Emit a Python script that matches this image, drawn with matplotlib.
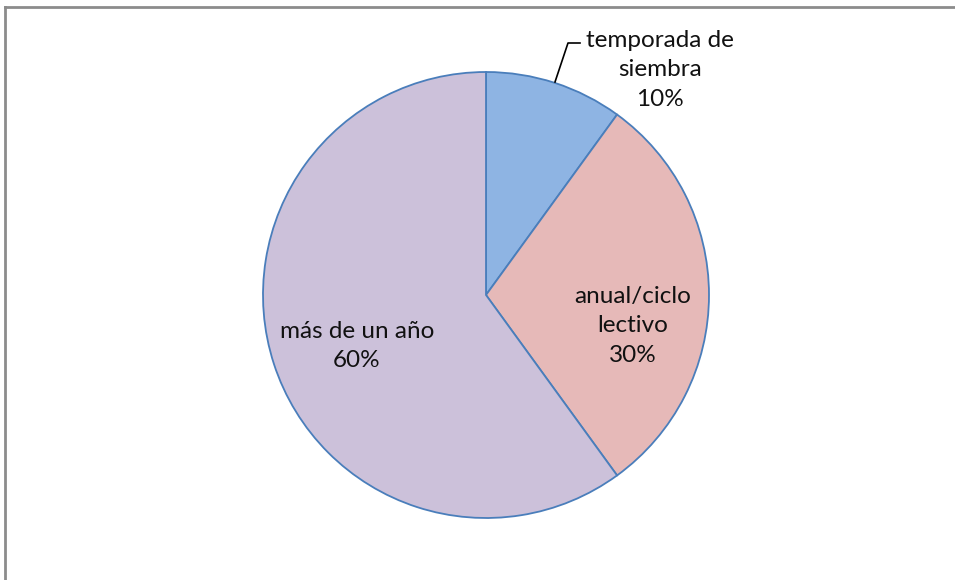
import matplotlib.pyplot as plt
from matplotlib.lines import Line2D

labels = ["temporada de\nsiembra", "anual/ciclo\nlectivo", "más de un año"]
values = [10, 30, 60]
colors = ["#8EB4E3", "#E6B9B8", "#CCC1DA"]

plt.rcParams['font.family'] = ['Lato', 'DejaVu Sans']

fig = plt.figure(figsize=(9.55, 5.8), dpi=100)
ax = fig.add_axes([0, 0, 1, 1])
ax.set_xlim(0, 955)
ax.set_ylim(0, 580)
ax.set_aspect('equal')
ax.axis('off')

cx, cy, r = 486, 580 - 295, 223
ax.pie(values, colors=colors, startangle=90, counterclock=False,
       center=(cx, cy), radius=r, frame=True,
       wedgeprops=dict(edgecolor="#4A7EBB", linewidth=1.3))
ax.axis('off')

# label positions (pixels from top)
pos = [(660, 70), (633, 326), (357, 346)]
for lab, v, (x, y) in zip(labels, values, pos):
    ax.text(x, 580 - y, f"{lab}\n{v}%", ha='center', va='center',
            fontsize=17.5, linespacing=1.48, color="#111111")

# leader line for the small slice
ax.plot([555, 568, 580], [580 - 82, 580 - 43, 580 - 43], color="black", lw=1.2)

# chart frame (top and left edges)
fig.add_artist(Line2D([5 / 955, 1], [1 - 7 / 580, 1 - 7 / 580], color="#8C8C8C", lw=2))
fig.add_artist(Line2D([5 / 955, 5 / 955], [0, 1 - 7 / 580], color="#8C8C8C", lw=2))

fig.savefig("out.png", dpi=100)
